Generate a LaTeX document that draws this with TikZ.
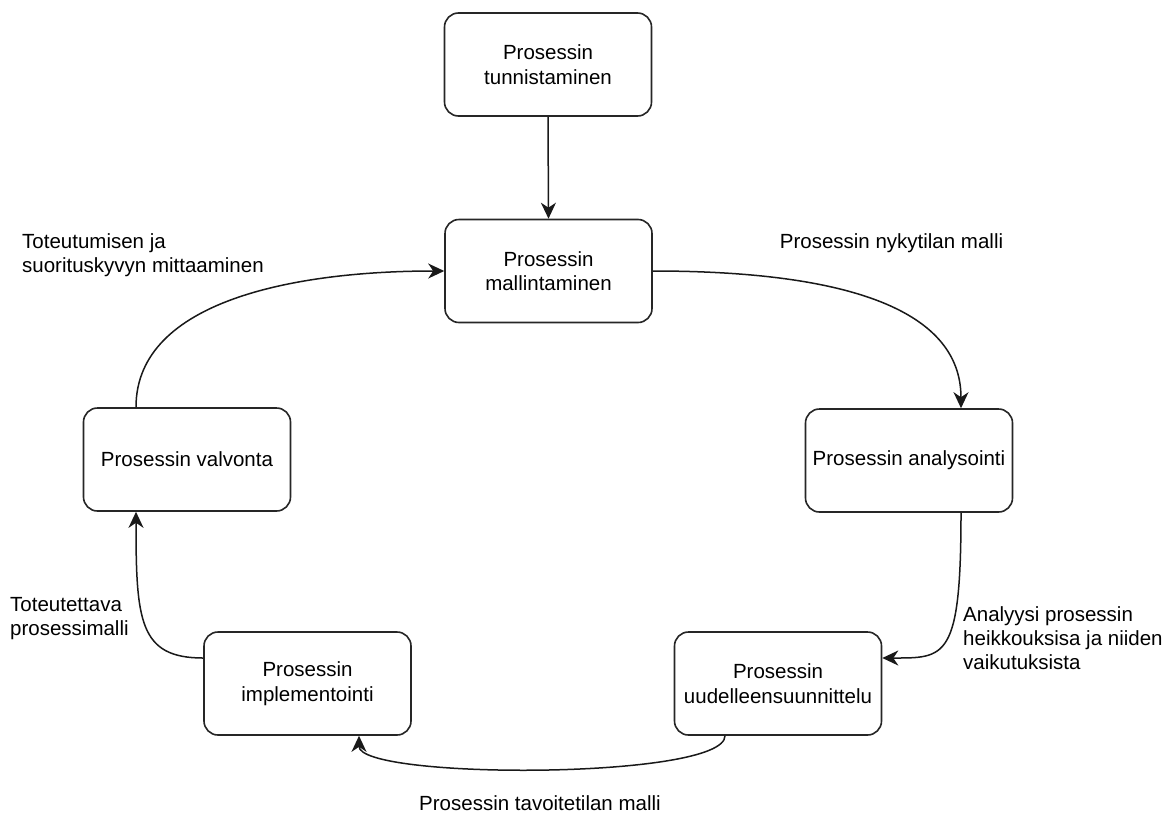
\documentclass[tikz,border=0pt]{standalone}
\usepackage{fontspec}
\setmainfont{Liberation Sans}
\usetikzlibrary{arrows.meta}
\begin{document}
\begin{tikzpicture}[x=1pt,y=-1pt,
  box/.style={draw=black!85, line width=1.6pt, rounded corners=14pt, fill=white,
    minimum width=207pt, minimum height=103pt, align=center, inner sep=2pt,
    font=\fontsize{20.5}{24.5}\selectfont},
  lbl/.style={align=left, inner sep=0pt, font=\fontsize{20.5}{24}\selectfont},
  conn/.style={line width=1.5pt, black!90, -{Stealth[length=16pt,width=15pt,inset=5pt]}}]
\useasboundingbox (0,0) rectangle (1174,814);
\fill[white] (0,0) rectangle (1174,814);

\node[box] (b1) at (548,64.5) {Prosessin\\tunnistaminen};
\node[box] (b2) at (548.5,271) {Prosessin\\mallintaminen};
\node[box] (b3) at (909,460.5) {Prosessin analysointi};
\node[box] (b4) at (778,683.5) {Prosessin\\uudelleensuunnittelu};
\node[box] (b5) at (307.5,683.5) {Prosessin\\implementointi};
\node[box] (b6) at (187,459.5) {Prosessin valvonta};

\draw[conn] (b1.south) -- (b2.north);
\draw[conn] (b2.east) .. controls +(168,0) and +(0,-108) .. ([xshift=52pt]b3.north);
\draw[conn] ([xshift=52pt]b3.south) .. controls +(0,147) and +(63,0) .. ([yshift=25.5pt]b4.east);
\draw[conn] ([xshift=-53pt]b4.south) .. controls +(0,44) and +(0,44) .. ([xshift=51.5pt]b5.south);
\draw[conn] ([yshift=25.5pt]b5.west) .. controls +(-64,0) and +(0,109) .. ([xshift=-51pt]b6.south);
\draw[conn] ([xshift=-51pt]b6.north) .. controls +(0,-108) and +(-145,0) .. (b2.west);

\node[lbl, anchor=west] (l1) at (22,255) {Toteutumisen ja\\suorituskyvyn mittaaminen};
\node[lbl, anchor=center] (l2) at (891.5,243) {Prosessin nykytilan malli};
\node[lbl, anchor=west] (l3) at (963,638) {Analyysi prosessin\\heikkouksisa ja niiden\\vaikutuksista};
\node[lbl, anchor=center] (l4) at (540,803) {Prosessin tavoitetilan malli};
\node[lbl, anchor=west] (l5) at (10,618.5) {Toteutettava\\prosessimalli};
\end{tikzpicture}
\end{document}
